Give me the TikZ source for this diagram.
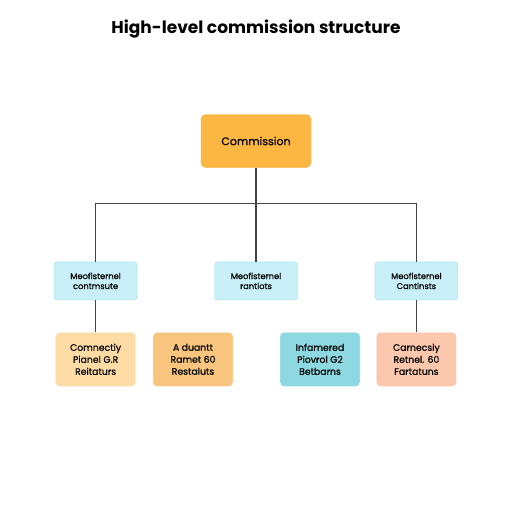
\documentclass[tikz,border=0pt]{standalone}
\usepackage{fontspec}
\setmainfont{Poppins}
\newfontfamily\boxfont[FakeBold=0.6]{Poppins}
\usetikzlibrary{positioning}

\definecolor{headorange}{HTML}{FCB642}
\definecolor{headedge}{HTML}{F3A935}
\definecolor{unitfill}{HTML}{C9EFF8}
\definecolor{unitedge}{HTML}{A3DDEA}
\definecolor{paleorange}{HTML}{FDDBA5}
\definecolor{midorange}{HTML}{F9C47D}
\definecolor{tealfill}{HTML}{8ED8E1}
\definecolor{salmonfill}{HTML}{FBC7AD}
\definecolor{linegrey}{HTML}{454545}

\begin{document}
\begin{tikzpicture}[x=1pt, y=1pt,
    	headbox/.style={rectangle, rounded corners=5pt, minimum width=110pt, minimum height=53pt, text centered, draw=headedge, fill=headorange, font=\boxfont\fontsize{11}{13}\selectfont},
    	unitbox/.style={rectangle, rounded corners=3pt, minimum width=83pt, minimum height=38pt, text centered, align=center, draw=unitedge, fill=unitfill, font=\boxfont\fontsize{8.3}{10}\selectfont},
    	panelbox/.style={rectangle, rounded corners=4pt, minimum width=80pt, minimum height=54pt, text centered, align=center, draw=#1!85!black!20, fill=#1, font=\boxfont\fontsize{9.3}{12}\selectfont},
    	link/.style={draw=linegrey, line width=1.4pt}
    	]
    	\useasboundingbox (0,0) rectangle (512,-512);
    	
    	% title
    	\node (title) at (256,-29) {\fontsize{17}{20}\selectfont\bfseries High-level commission structure};
    	
    	% top node
    	\node (commission) [headbox] at (256,-141) {Commission};
    	
    	% middle row
    	\node (midunit) [unitbox, below=94pt of commission] {Meofisternel\\rantiots};
    	\node (leftunit) [unitbox, left=77pt of midunit] {Meofisternel\\contmsute};
    	\node (rightunit) [unitbox, right=77pt of midunit] {Meofisternel\\Cantinsts};
    	
    	% bottom row
    	\node (panelone) [panelbox=paleorange, below=32pt of leftunit] {Comnectiy\\Pianel G.R\\Reitaturs};
    	\node (paneltwo) [panelbox=midorange, right=17pt of panelone] {A duantt\\Ramet 60\\Restaluts};
    	\node (panelfour) [panelbox=salmonfill, below=32pt of rightunit] {Carnecsiy\\Retnel. 60\\Fartatuns};
    	\node (panelthree) [panelbox=tealfill, left=16pt of panelfour] {Infamered\\Piovrol G2\\Betbarns};
    	
    	% bus
    	\coordinate (bus) at ([yshift=-36pt]commission.south);
    	
    	% connectors
    	\draw [link] (commission) -- (midunit);
    	\draw [link] (bus) -| (leftunit);
    	\draw [link] (bus) -| (rightunit);
    	\draw [link] (leftunit) -- (panelone);
    	\draw [link] (rightunit) -- (panelfour);
    	
    \end{tikzpicture}
\end{document}
